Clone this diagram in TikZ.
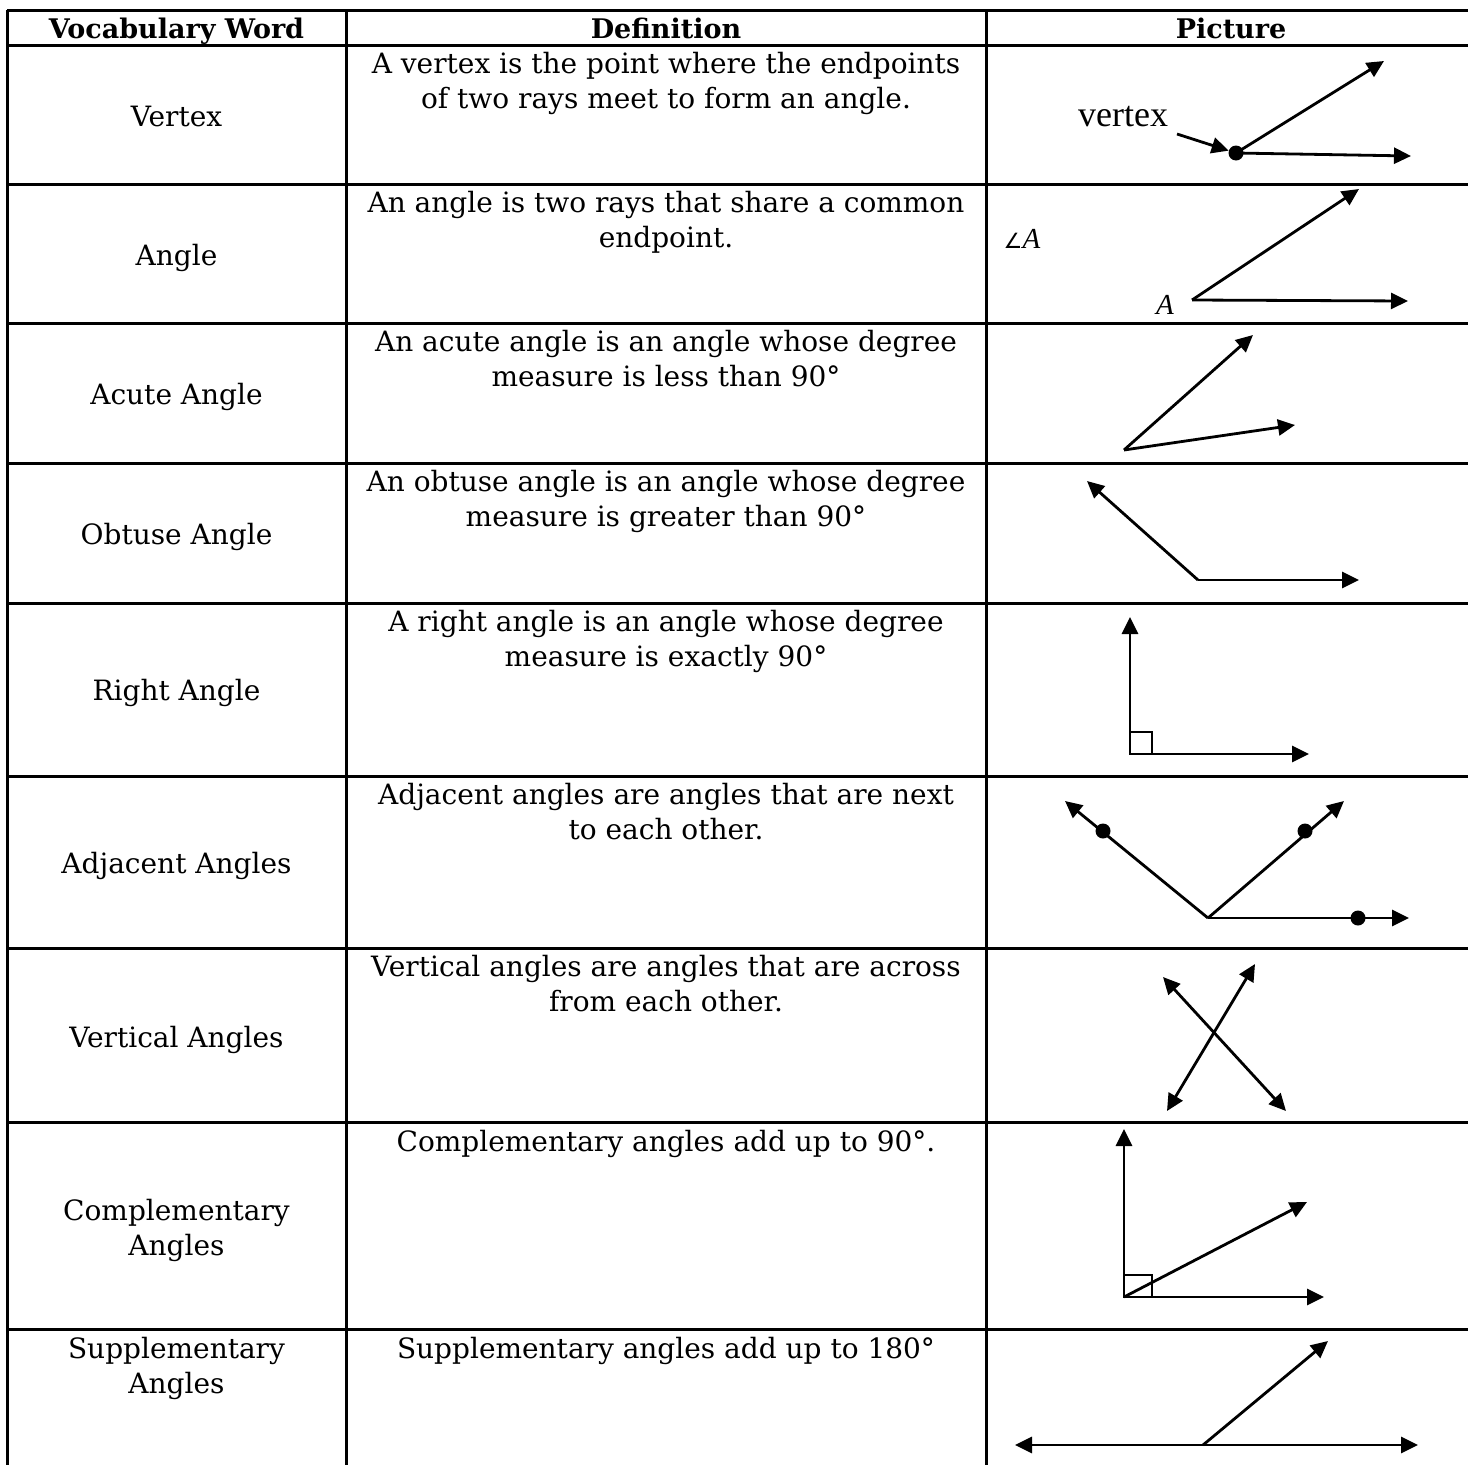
\documentclass[tikz,border=0pt]{standalone}
\usepackage{fontspec}
\setmainfont{DejaVu Serif}
\newfontfamily\labfont{Liberation Serif}
\newfontfamily\symfont{DejaVu Sans}
\usetikzlibrary{arrows.meta}
\begin{document}
\begin{tikzpicture}[x=1pt,y=-1pt,
  gridline/.style={line width=3pt},
  ray/.style={line width=2.8pt,-{Triangle[length=17pt,width=16pt]}},
  dray/.style={line width=2.8pt,{Triangle[length=17pt,width=16pt]}-{Triangle[length=17pt,width=16pt]}},
  sqmark/.style={line width=1.8pt},
  txt/.style={font=\fontsize{28}{35}\selectfont, inner sep=0pt, align=center, anchor=base},
  hdr/.style={font=\fontsize{27}{35}\selectfont\bfseries, inner sep=0pt, anchor=base},
  lab/.style={font=\labfont\fontsize{36}{40}\selectfont, inner sep=0pt, anchor=base},
  dotmark/.style={circle, fill=black, inner sep=0pt, minimum size=15pt}]
\useasboundingbox (0,0) rectangle (1468,1465);
% grid
\foreach \yy in {10,45,184,323,463,603,776,948,1122,1329}
  \draw[gridline] (7,\yy) -- (1468,\yy);
\foreach \xx in {7,346,986}
  \draw[gridline] (\xx,10) -- (\xx,1465);
% header
\node[hdr] (h1) at (176.5,38) {Vocabulary Word};
\node[hdr] (h2) at (666,38) {Definition};
\node[hdr] (h3) at (1231,38) {Picture};
% column 1
\node[txt] (w1) at (176.5,126) {Vertex};
\node[txt] (w2) at (176.5,265) {Angle};
\node[txt] (w3) at (176.5,404) {Acute Angle};
\node[txt] (w4) at (176.5,544) {Obtuse Angle};
\node[txt] (w5) at (176.5,700) {Right Angle};
\node[txt] (w6) at (176.5,873) {Adjacent Angles};
\node[txt] (w7) at (176.5,1047) {Vertical Angles};
\node[txt] (w8) at (176.5,1255) {Complementary\\Angles};
\node[txt] (w9) at (176.5,1393) {Supplementary\\Angles};
% column 2 (anchor = baseline of last line)
\node[txt] (d1) at (666,108) {A vertex is the point where the endpoints\\of two rays meet to form an angle.};
\node[txt] (d2) at (666,247) {An angle is two rays that share a common\\endpoint.};
\node[txt] (d3) at (666,386) {An acute angle is an angle whose degree\\measure is less than 90°};
\node[txt] (d4) at (666,526) {An obtuse angle is an angle whose degree\\measure is greater than 90°};
\node[txt] (d5) at (666,666) {A right angle is an angle whose degree\\measure is exactly 90°};
\node[txt] (d6) at (666,839) {Adjacent angles are angles that are next\\to each other.};
\node[txt] (d7) at (666,1011) {Vertical angles are angles that are across\\from each other.};
\node[txt] (d8) at (666,1151) {Complementary angles add up to 90°.};
\node[txt] (d9) at (666,1358) {Supplementary angles add up to 180°};
% row 1: vertex
\coordinate (v1) at (1236,153);
\coordinate (v1a) at (1384,61);
\coordinate (v1b) at (1411,156);
\coordinate (p1) at (1177,134);
\node[lab] (vl) at (1123,126) {vertex};
\draw[ray] (v1) -- (v1a);
\draw[ray] (v1) -- (v1b);
\node[dotmark] (dv1) at (v1) {};
\draw[ray] (p1) -- (dv1);
% row 2: angle
\coordinate (v2) at (1192,300);
\coordinate (v2a) at (1359,189);
\coordinate (v2b) at (1408,301);
\draw[ray] (v2) -- (v2a);
\draw[ray] (v2) -- (v2b);
\node[inner sep=0pt, anchor=base] (angA) at (1022,248) {{\symfont\fontsize{21}{24}\selectfont ∠}{\labfont\itshape\fontsize{29}{30}\selectfont A}};
\node[inner sep=0pt, anchor=base, font=\labfont\itshape\fontsize{29}{30}\selectfont] (ptA) at (1165,314) {A};
% row 3: acute
\coordinate (v3) at (1124,450);
\coordinate (v3a) at (1253,335);
\coordinate (v3b) at (1295,425);
\draw[ray] (v3) -- (v3a);
\draw[ray] (v3) -- (v3b);
% row 4: obtuse
\coordinate (v4) at (1198,580);
\coordinate (v4a) at (1087,481);
\coordinate (v4b) at (1359,580);
\draw[ray] (v4) -- (v4a);
\draw[ray] (v4) -- (v4b);
% row 5: right
\coordinate (v5) at (1130,754);
\coordinate (v5a) at (1130,617);
\coordinate (v5b) at (1309,754);
\draw[sqmark] (v5) rectangle ++(22,-22);
\draw[ray] (v5) -- (v5a);
\draw[ray] (v5) -- (v5b);
% row 6: adjacent
\coordinate (v6) at (1208,918);
\coordinate (v6a) at (1065,801);
\coordinate (v6b) at (1344,801);
\coordinate (v6c) at (1409,918);
\draw[ray] (v6) -- (v6a);
\draw[ray] (v6) -- (v6b);
\draw[ray] (v6) -- (v6c);
\node[dotmark] (a6a) at (1103,831) {};
\node[dotmark] (a6b) at (1305,831) {};
\node[dotmark] (a6c) at (1358,918) {};
% row 7: vertical
\coordinate (v7a) at (1163,977);
\coordinate (v7b) at (1286,1111);
\coordinate (v7c) at (1255,964);
\coordinate (v7d) at (1167,1111);
\draw[dray] (v7a) -- (v7b);
\draw[dray] (v7d) -- (v7c);
% row 8: complementary
\coordinate (v8) at (1124,1297);
\coordinate (v8a) at (1124,1129);
\coordinate (v8b) at (1307,1202);
\coordinate (v8c) at (1324,1297);
\draw[sqmark] (v8) rectangle ++(28,-22);
\draw[ray] (v8) -- (v8a);
\draw[ray] (v8) -- (v8b);
\draw[ray] (v8) -- (v8c);
% row 9: supplementary
\coordinate (v9) at (1203,1445);
\coordinate (v9a) at (1015,1445);
\coordinate (v9b) at (1418,1445);
\coordinate (v9c) at (1328,1341);
\draw[dray] (v9a) -- (v9b);
\draw[ray] (v9) -- (v9c);
\end{tikzpicture}
\end{document}
